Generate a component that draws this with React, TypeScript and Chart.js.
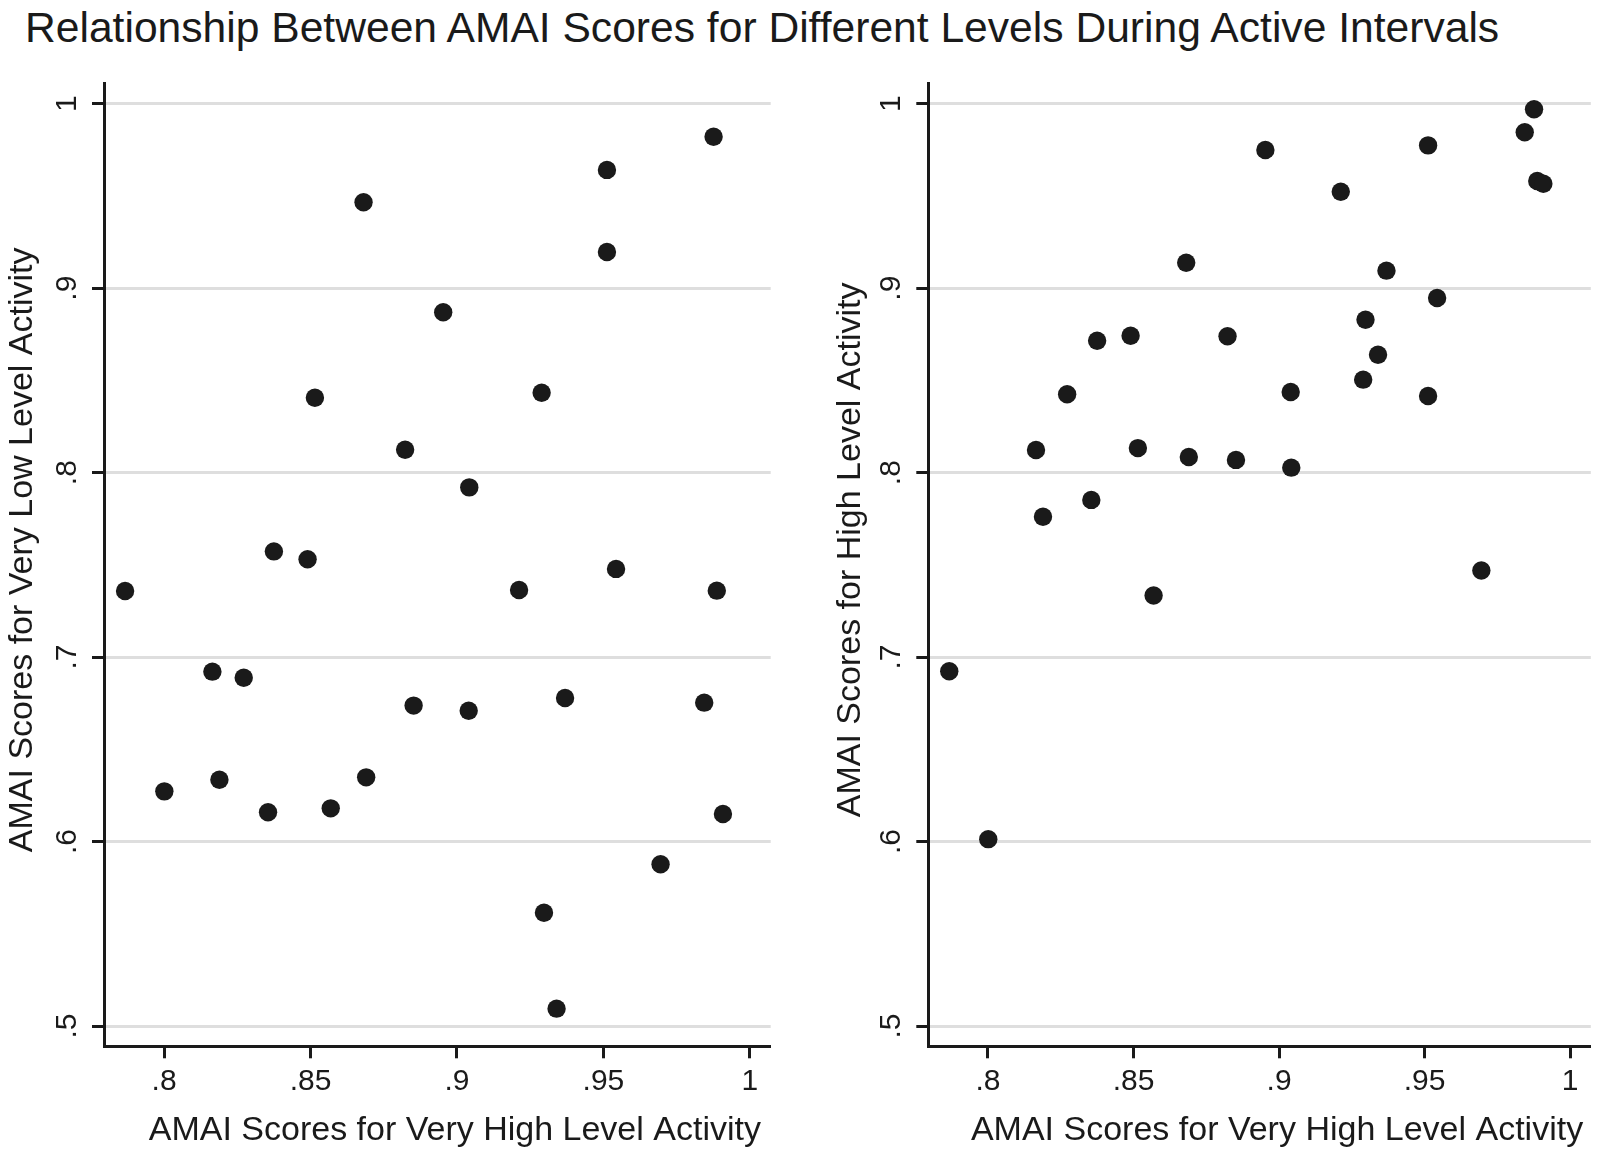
import React, { useEffect, useRef } from 'react';
import { Chart, registerables } from 'chart.js';

Chart.register(...registerables);

const titleText = 'Relationship Between AMAI Scores for Different Levels During Active Intervals';
const xAxisTitle = 'AMAI Scores for Very High Level Activity';
const yTitleLeft = 'AMAI Scores for Very Low Level Activity';
const yTitleRight = 'AMAI Scores for High Level Activity';

// AMAI scores, very high level activity (x in both panels)
const veryHigh = [
  0.7867, 0.8001, 0.8165, 0.8189, 0.8272, 0.8355, 0.8375, 0.849, 0.8515, 0.8569,
  0.8681, 0.869, 0.8823, 0.8852, 0.8953, 0.904, 0.9042, 0.9212, 0.9289, 0.9297,
  0.934, 0.9369, 0.9512, 0.9512, 0.9543, 0.9695, 0.9844, 0.9876, 0.9887, 0.9908,
];
// AMAI scores, very low level activity (left panel y)
const veryLow = [
  0.7358, 0.6272, 0.6921, 0.6335, 0.6888, 0.6159, 0.7573, 0.753, 0.8406, 0.618,
  0.9466, 0.6348, 0.8124, 0.6737, 0.8869, 0.6709, 0.792, 0.7364, 0.8433, 0.5614,
  0.5094, 0.6778, 0.9641, 0.9196, 0.7478, 0.5877, 0.6753, 0.9821, 0.736, 0.6149,
];
// AMAI scores, high level activity (right panel y)
const high = [
  0.6923, 0.6013, 0.8123, 0.7761, 0.8425, 0.7852, 0.8715, 0.8742, 0.8133, 0.7334,
  0.9138, 0.8085, 0.8739, 0.8069, 0.9749, 0.8437, 0.8027, 0.9523, 0.8504, 0.8829,
  0.8639, 0.9095, 0.9774, 0.8415, 0.8947, 0.7469, 0.9845, 0.997, 0.9581, 0.9566,
];

const xTickValues = [0.8, 0.85, 0.9, 0.95, 1];
const xTickLabels = ['.8', '.85', '.9', '.95', '1'];
const yTickValues = [0.5, 0.6, 0.7, 0.8, 0.9, 1];
const yTickLabels = ['.5', '.6', '.7', '.8', '.9', '1'];
const xRange = [0.7795, 1.0071];
const yRange = [0.489, 1.011];

const FONT = '"Liberation Sans", Arial, Helvetica, sans-serif';
const INK = '#1a1a1a';
const GRID = '#dedede';

const lookup = (vals: number[], labels: string[]) => (value: any) => {
  const i = vals.findIndex((v) => Math.abs(v - Number(value)) < 1e-9);
  return i >= 0 ? labels[i] : '';
};

// Draws the two axis titles (Stata places them slightly off the plot centre)
const axisTitlePlugin = {
  id: 'axisTitles',
  afterDraw(chart: any, _args: any, opts: any) {
    const { ctx, chartArea } = chart;
    ctx.save();
    ctx.fillStyle = INK;
    ctx.font = `34px ${FONT}`;
    ctx.textAlign = 'center';
    ctx.textBaseline = 'alphabetic';
    ctx.fillText(opts.xText, (chartArea.left + chartArea.right) / 2 + opts.xShift, opts.xBaseline);
    ctx.translate(opts.yBaseline, (chartArea.top + chartArea.bottom) / 2 + opts.yShift);
    ctx.rotate(-Math.PI / 2);
    ctx.fillText(opts.yText, 0, 0);
    ctx.restore();
  },
};

type PanelProps = {
  ys: number[];
  yTitle: string;
  left: number;
  yAxisWidth: number;
  padRight: number;
  yTitleBaseline: number;
};

function Panel({ ys, yTitle, left, yAxisWidth, padRight, yTitleBaseline }: PanelProps) {
  const ref = useRef<HTMLCanvasElement | null>(null);
  useEffect(() => {
    if (!ref.current) return;
    const chart = new Chart(ref.current, {
      type: 'scatter',
      data: {
        datasets: [
          {
            data: veryHigh.map((x, i) => ({ x, y: ys[i] })),
            pointRadius: 9.2,
            pointHoverRadius: 9.2,
            backgroundColor: INK,
            borderWidth: 0,
          },
        ],
      },
      plugins: [axisTitlePlugin],
      options: {
        responsive: false,
        animation: false,
        devicePixelRatio: 1,
        events: [],
        layout: { padding: { top: 83.4, right: padRight, bottom: 0, left: 0 } },
        plugins: {
          legend: { display: false },
          tooltip: { enabled: false },
          title: { display: false },
          axisTitles: {
            xText: xAxisTitle,
            yText: yTitle,
            xShift: 17.5,
            xBaseline: 1140,
            yShift: -15,
            yBaseline: yTitleBaseline,
          },
        },
        scales: {
          x: {
            type: 'linear',
            position: 'bottom',
            min: xRange[0],
            max: xRange[1],
            afterBuildTicks: (s: any) => {
              s.ticks = xTickValues.map((v) => ({ value: v }));
            },
            afterFit: (s: any) => {
              s.height = 105.7;
            },
            ticks: {
              callback: lookup(xTickValues, xTickLabels),
              font: { family: FONT, size: 30 },
              color: INK,
              padding: 5,
              minRotation: 0,
              maxRotation: 0,
              autoSkip: false,
            },
            grid: {
              display: true,
              drawOnChartArea: false,
              drawTicks: true,
              tickLength: 12,
              tickWidth: 3,
              tickColor: INK,
            },
            border: { display: true, color: INK, width: 3 },
            title: { display: false },
          },
          y: {
            type: 'linear',
            position: 'left',
            min: yRange[0],
            max: yRange[1],
            afterBuildTicks: (s: any) => {
              s.ticks = yTickValues.map((v) => ({ value: v }));
            },
            afterFit: (s: any) => {
              s.width = yAxisWidth;
            },
            ticks: {
              callback: lookup(yTickValues, yTickLabels),
              font: { family: FONT, size: 30 },
              color: INK,
              padding: 12,
              minRotation: 90,
              maxRotation: 90,
              crossAlign: 'center',
              autoSkip: false,
            },
            grid: {
              display: true,
              drawOnChartArea: true,
              color: GRID,
              lineWidth: 3,
              drawTicks: true,
              tickLength: 12,
              tickWidth: 3,
              tickColor: INK,
            },
            border: { display: true, color: INK, width: 3 },
            title: { display: false },
          },
        },
      } as any,
    });
    return () => chart.destroy();
  }, [ys, yTitle, yAxisWidth, padRight, yTitleBaseline]);

  return (
    <canvas
      ref={ref}
      width={800}
      height={1152}
      style={{ position: 'absolute', left, top: 0, width: 800, height: 1152 }}
    />
  );
}

export default function App() {
  return (
    <div
      style={{
        position: 'absolute',
        left: 0,
        top: 0,
        width: 1600,
        height: 1152,
        background: '#ffffff',
        overflow: 'hidden',
      }}
    >
      <div
        style={{
          position: 'absolute',
          left: 25,
          top: 6,
          fontFamily: FONT,
          fontSize: 42.6,
          lineHeight: 1,
          color: INK,
          whiteSpace: 'nowrap',
        }}
      >
        {titleText}
      </div>
      <Panel ys={veryLow} yTitle={yTitleLeft} left={0} yAxisWidth={104} padRight={29.3} yTitleBaseline={31.6} />
      <Panel ys={high} yTitle={yTitleRight} left={800} yAxisWidth={128.3} padRight={5} yTitleBaseline={60} />
    </div>
  );
}
